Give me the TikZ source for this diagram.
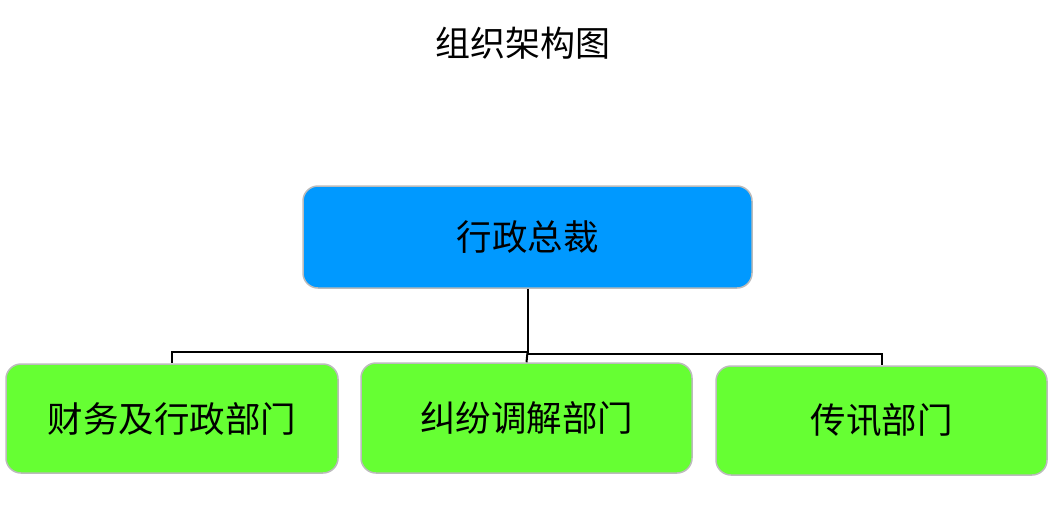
\documentclass[tikz,border=0pt]{standalone}
\usepackage{fontspec}
\newfontfamily\cjk{Noto Sans CJK SC}
\definecolor{topblue}{HTML}{0099FF}
\definecolor{boxgreen}{HTML}{66FF33}
\definecolor{edgegray}{HTML}{BBBBBB}
\begin{document}
\begin{tikzpicture}[x=1pt,y=-1pt,
  box/.style={draw=edgegray, line width=1.5pt, rounded corners=15pt, inner sep=0pt,
    font=\cjk\fontsize{35.5}{40}\selectfont, text=black},
  conn/.style={draw=black, line width=2pt}]
\useasboundingbox (0,0) rectangle (1059,507);
\node[font=\cjk\fontsize{35}{40}\selectfont] (title) at (523,43) {组织架构图};
\node[box, fill=topblue, minimum width=449pt, minimum height=102pt] (top) at (527.5,237) {行政总裁};
\node[box, fill=boxgreen, minimum width=332pt, minimum height=109pt] (left) at (172,418.5) {财务及行政部门};
\node[box, fill=boxgreen, minimum width=331pt, minimum height=110pt] (mid) at (526.5,418) {\raisebox{3pt}{纠纷调解部门}};
\node[box, fill=boxgreen, minimum width=331pt, minimum height=109pt] (right) at (881.5,420.5) {传讯部门};
\coordinate (jl) at (527.5,352);
\coordinate (jr) at (527.5,354);
\draw[conn] (top.south) -- (jl) -| (left.north);
\draw[conn] (jl) -- (mid.north);
\draw[conn] (jr) -| (right.north);
\end{tikzpicture}
\end{document}
